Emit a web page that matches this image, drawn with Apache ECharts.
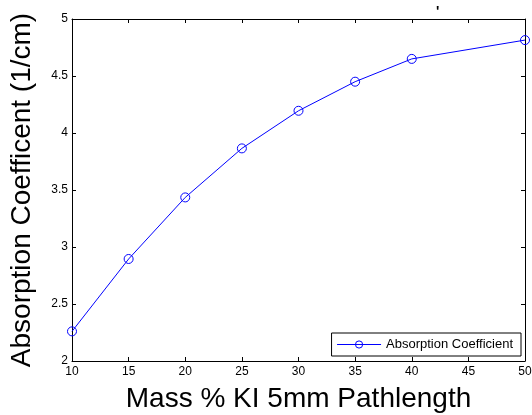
<!DOCTYPE html>
<html>
<head>
<meta charset="utf-8">
<script src="https://cdn.jsdelivr.net/npm/echarts@6/dist/echarts.min.js"></script>
<style>
  html, body { margin: 0; padding: 0; background: #fff; }
  #chart { width: 532px; height: 415px; }
</style>
</head>
<body>
<div id="chart"></div>
<script>
const xPoints = [10, 15, 20, 25, 30, 35, 40, 50]
const absorption = [2.26, 2.895, 3.435, 3.865, 4.195, 4.45, 4.65, 4.815]
const seriesName = 'Absorption Coefficient'

const font = 'Liberation Sans, Arial, sans-serif'
const chart = echarts.init(document.getElementById('chart'))

const boxAxis = {
  axisLine: { show: true, lineStyle: { color: '#000', width: 1 } },
  axisTick: { show: true, inside: true, length: 4, lineStyle: { color: '#000' } },
  splitLine: { show: false },
}

chart.setOption({
  animation: false,
  title: {
    text: "'",
    left: 431,
    top: 0,
    textStyle: { fontFamily: font, fontSize: 14, fontWeight: 'bold', color: '#000' },
  },
  grid: { left: 72, right: 7, top: 19, bottom: 54, outerBoundsMode: 'none' },
  legend: {
    right: 11,
    bottom: 59,
    data: [seriesName],
    backgroundColor: '#fff',
    borderColor: '#000',
    borderWidth: 1,
    padding: [5, 8, 5, 5],
    itemWidth: 44,
    itemHeight: 9,
    itemGap: 4,
    lineStyle: { width: 1 },
    itemStyle: { borderWidth: 1 },
    textStyle: { fontFamily: font, fontSize: 13, color: '#000' },
  },
  xAxis: [
    {
      type: 'value', min: 10, max: 50, interval: 5,
      ...boxAxis,
      axisLabel: { fontFamily: font, fontSize: 12, color: '#000', margin: 5 },
      name: 'Mass % KI 5mm Pathlength',
      nameLocation: 'middle',
      nameGap: 24,
      nameTextStyle: { fontFamily: font, fontSize: 28, color: '#000' },
    },
    { type: 'value', min: 10, max: 50, interval: 5, position: 'top', ...boxAxis, axisLabel: { show: false } },
  ],
  yAxis: [
    {
      type: 'value', min: 2, max: 5, interval: 0.5,
      ...boxAxis,
      axisLabel: { fontFamily: font, fontSize: 12, color: '#000', margin: 4 },
      name: 'Absorption Coefficent (1/cm)',
      nameLocation: 'middle',
      nameGap: 36,
      nameTextStyle: { fontFamily: font, fontSize: 28, color: '#000' },
    },
    { type: 'value', min: 2, max: 5, interval: 0.5, position: 'right', ...boxAxis, axisLabel: { show: false } },
  ],
  series: [
    {
      name: seriesName,
      type: 'line',
      data: xPoints.map((x, i) => [x, absorption[i]]),
      symbol: 'circle',
      symbolSize: 9,
      lineStyle: { color: '#0000ff', width: 1 },
      itemStyle: { color: 'transparent', borderColor: '#0000ff', borderWidth: 1 },
    },
  ],
})
</script>
</body>
</html>
